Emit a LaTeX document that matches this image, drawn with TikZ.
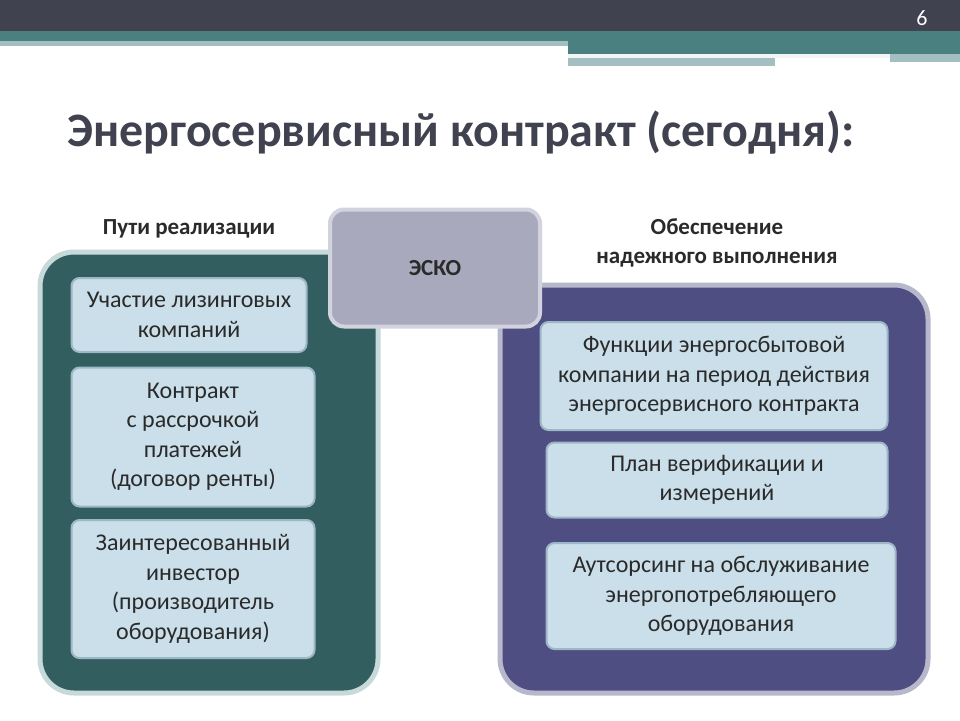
\documentclass[tikz,border=0pt]{standalone}
\usepackage{fontspec}
\setmainfont{Carlito}
\definecolor{topbar}{HTML}{41424F}
\definecolor{teal1}{HTML}{4A8080}
\definecolor{teal2}{HTML}{A3BFC2}
\definecolor{lpanel}{HTML}{335E60}
\definecolor{rpanel}{HTML}{4E4E82}
\definecolor{boxfill}{HTML}{CADFE9}
\definecolor{boxline}{HTML}{9EB7C6}
\definecolor{esko}{HTML}{A8A9BC}
\definecolor{txt}{HTML}{2A2A2A}
\begin{document}
\begin{tikzpicture}[x=1pt,y=-1pt,
 panel/.style={rounded corners=34pt,line width=5pt},
 item/.style={rounded corners=8pt,fill=boxfill,draw=boxline,line width=2pt,align=center,font=\fontsize{24}{29.5}\selectfont,text=txt},
 head/.style={font=\bfseries\fontsize{23}{29}\selectfont,text=txt,align=center}]
\useasboundingbox (0,0) rectangle (960,720);
\fill[white] (0,0) rectangle (960,720);
\fill[topbar] (0,0) rectangle (960,31);
\fill[teal1] (0,31) rectangle (960,41);
\fill[teal2] (0,41) rectangle (568,46);
\fill[teal1] (568,41) rectangle (960,54);
\fill[white!85!teal2] (568,54) rectangle (890,58);
\fill[teal2] (568,58) rectangle (775,66);
\fill[teal2] (890,54) rectangle (960,62);
\node[text=white,font=\fontsize{22}{22}\selectfont] at (922,18) {6};
\node[anchor=west,font=\bfseries\fontsize{48}{48}\selectfont,text=topbar] at (64,133) {Энергосервисный контракт (сегодня):};
% panels
\draw[panel,fill=lpanel,draw=teal2!60] (40,252) rectangle (378,693);
\draw[panel,fill=rpanel,draw=rpanel!40] (500,285) rectangle (928,693);
\node[head] at (189,229) {Пути реализации};
\node[head] at (717,243) {Обеспечение\\надежного выполнения};
% ESKO
\node[rounded corners=14pt,fill=esko,draw=rpanel!25,line width=4pt,minimum width=210pt,minimum height=117pt,font=\bfseries\fontsize{23}{23}\selectfont,text=txt] (esko) at (435,268) {ЭСКО};
% left boxes
\node[item,minimum width=235pt,minimum height=74pt] (l1) at (189,315) {Участие лизинговых\\компаний};
\node[item,minimum width=243pt,minimum height=139pt] (l2) at (193,437) {Контракт\\с рассрочкой\\платежей\\(договор ренты)};
\node[item,minimum width=243pt,minimum height=138pt] (l3) at (193,589) {Заинтересованный\\инвестор\\(производитель\\оборудования)};
% right boxes
\node[item,minimum width=347pt,minimum height=108pt] (r1) at (714,376) {Функции энергосбытовой\\компании на период действия\\энергосервисного контракта};
\node[item,minimum width=341pt,minimum height=75pt] (r2) at (717,480) {План верификации и\\измерений};
\node[item,minimum width=349pt,minimum height=106pt] (r3) at (721,596) {Аутсорсинг на обслуживание\\энергопотребляющего\\оборудования};
\end{tikzpicture}
\end{document}
